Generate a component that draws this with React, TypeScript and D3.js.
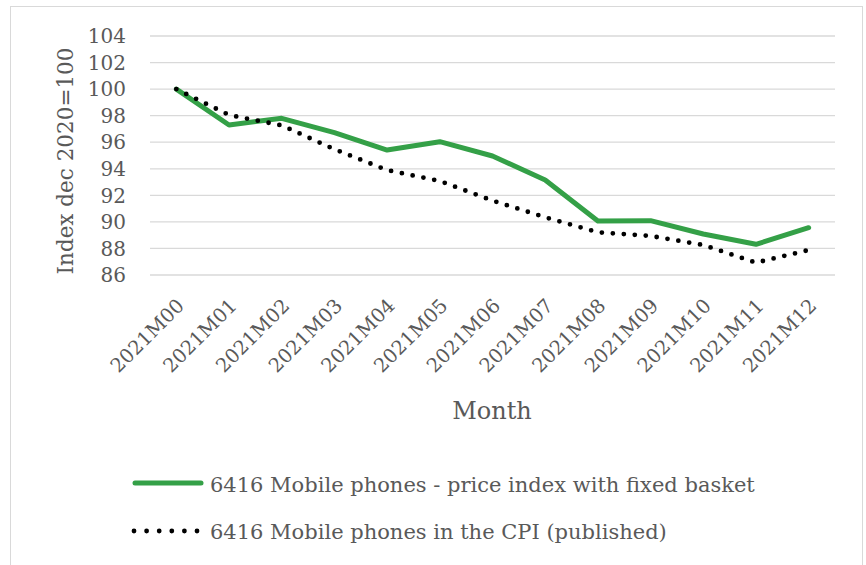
import React from "react";
import * as d3 from "d3";

const months = ["2021M00","2021M01","2021M02","2021M03","2021M04","2021M05","2021M06","2021M07","2021M08","2021M09","2021M10","2021M11","2021M12"];
const fixedBasket = [100, 97.3, 97.8, 96.72, 95.41, 96.04, 94.96, 93.16, 90.07, 90.09, 89.09, 88.31, 89.56];
const cpiPublished = [100, 98.05, 97.27, 95.47, 93.9, 93.08, 91.6, 90.35, 89.22, 88.94, 88.26, 86.93, 87.88];
const yTicks = [86, 88, 90, 92, 94, 96, 98, 100, 102, 104];
const seriesNames = ["6416 Mobile phones - price index with fixed basket", "6416 Mobile phones in the CPI (published)"];
const yTitle = "Index dec 2020=100";
const xTitle = "Month";

const W = 866, H = 565;
const FONT = "'DejaVu Serif', serif";
const TXT = "#595959";
const GREEN = "#34a047";

export default function App() {
  const x = d3.scaleBand<string>().domain(months).range([150, 835]);
  const y = d3.scaleLinear().domain([86, 104]).range([275, 36]);
  const cx = (m: string) => (x(m) as number) + x.bandwidth() / 2;
  const line = d3.line<number>().x((_, i) => cx(months[i])).y((v) => y(v));

  return (
    <svg width={W} height={H} style={{ position: "absolute", left: 0, top: 0, background: "#fff" }}>
      <rect x={10.5} y={6.5} width={852} height={600} fill="#fff" stroke="#d9d9d9" strokeWidth={1} />
      {yTicks.map((t) => (
        <g key={t}>
          <line x1={150} x2={835} y1={y(t)} y2={y(t)} stroke="#d9d9d9" strokeWidth={1.3} />
          <text x={126} y={y(t)} dy="0.36em" textAnchor="end" fontFamily={FONT} fontSize={20} fill={TXT}>{t}</text>
        </g>
      ))}
      <text transform={`translate(73,161) rotate(-90)`} textAnchor="middle" fontFamily={FONT} fontSize={21.5} fill={TXT}>{yTitle}</text>
      {months.map((m) => (
        <text key={m} transform={`translate(${cx(m) + 9},307) rotate(-45)`} textAnchor="end" fontFamily={FONT} fontSize={19.5} fill={TXT}>{m}</text>
      ))}
      <text x={492} y={419} textAnchor="middle" fontFamily={FONT} fontSize={24} fill={TXT}>{xTitle}</text>
      <path d={line(fixedBasket) || ""} fill="none" stroke={GREEN} strokeWidth={5} strokeLinejoin="round" strokeLinecap="round" />
      <path d={line(cpiPublished) || ""} fill="none" stroke="#000" strokeWidth={4.8} strokeDasharray="0 11" strokeLinecap="round" />
      <line x1={135} x2={201} y1={483} y2={483} stroke={GREEN} strokeWidth={5} strokeLinecap="round" />
      <text x={210} y={492} fontFamily={FONT} fontSize={21} fill={TXT}>{seriesNames[0]}</text>
      <line x1={134} x2={198} y1={531} y2={531} stroke="#000" strokeWidth={4.8} strokeDasharray="0 12.6" strokeLinecap="round" />
      <text x={210} y={539} fontFamily={FONT} fontSize={21} fill={TXT}>{seriesNames[1]}</text>
    </svg>
  );
}
